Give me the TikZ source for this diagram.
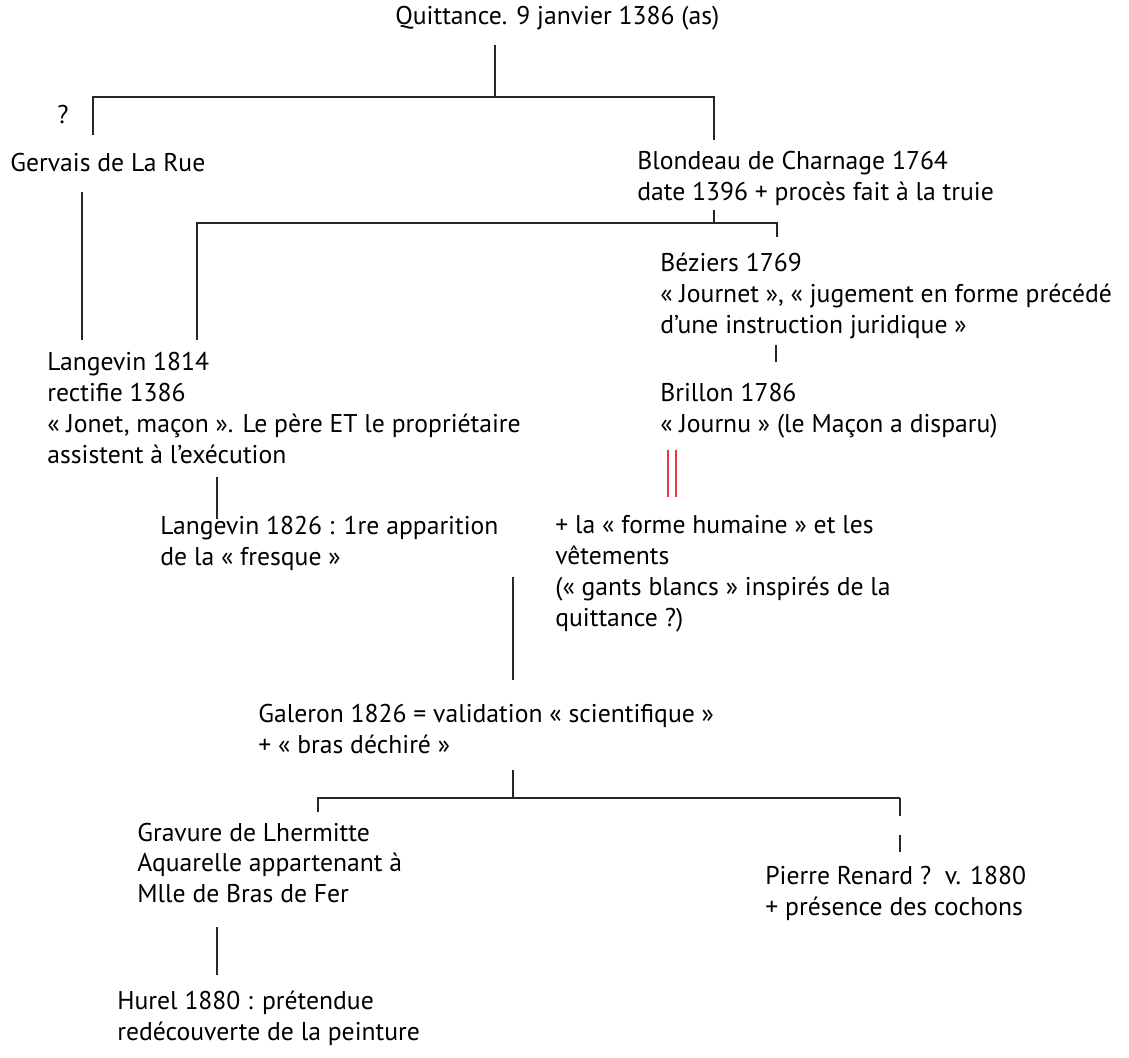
\documentclass[tikz,border=0pt]{standalone}
\usepackage{fontspec}
\setmainfont{PT Sans}
\definecolor{redline}{RGB}{232,58,68}
\begin{document}
\begin{tikzpicture}[x=0.02cm,y=-0.02cm,
  txt/.style={anchor=west,align=left,inner sep=0pt,font=\fontsize{14.6}{17.6}\selectfont},
  link/.style={line width=1.1pt,black!85}]
\useasboundingbox (0,0) rectangle (1129,1058);

%TEXTS
\node[txt](quit) at (395,18) {Quittance. 9 janvier 1386 (as)};
\node[txt,anchor=center](qmark) at (63,115) {?};
\node[txt](gervais) at (10,163) {Gervais de La Rue};
\node[txt](blondeau) at (637,178) {Blondeau de Charnage 1764\\date 1396 + procès fait à la truie};
\node[txt](beziers) at (660,296) {Béziers 1769\\« Journet », « jugement en forme précédé\\d’une instruction juridique »};
\node[txt](brillon) at (660,411) {Brillon 1786\\« Journu » (le Maçon a disparu)};
\node[txt](langA) at (47,408) {Langevin 1814\\rectifie 1386\\« Jonet, maçon ». Le père ET le propriétaire\\assistent à l’exécution};
\node[txt](langB) at (160,543) {Langevin 1826 : 1re apparition\\de la « fresque »};
\node[txt](forme) at (555,574) {+ la « forme humaine » et les\\vêtements\\(« gants blancs » inspirés de la\\quittance ?)};
\node[txt](galeron) at (258,729) {Galeron 1826 = validation « scientifique »\\+ « bras déchiré »};
\node[txt](gravure) at (137,863) {Gravure de Lhermitte\\Aquarelle appartenant à\\Mlle de Bras de Fer};
\node[txt](renard) at (765,893) {Pierre Renard ?~~v. 1880\\+ présence des cochons};
\node[txt](hurel) at (117,1018) {Hurel 1880 : prétendue\\redécouverte de la peinture};

%JUNCTIONS
\coordinate (j0a) at (495,45);
\coordinate (j0) at (495,97);
\coordinate (j1a) at (93,135);
\coordinate (j1b) at (714,140);
\coordinate (j2a) at (82,192);
\coordinate (j2b) at (82,340);
\coordinate (j3a) at (714,210);
\coordinate (j3) at (714,223);
\coordinate (j4a) at (197,340);
\coordinate (j4b) at (777,237);
\coordinate (j5a) at (776,345);
\coordinate (j5b) at (776,362);
\coordinate (r1) at (668,450);
\coordinate (r2) at (676,450);
\coordinate (j6a) at (217,477);
\coordinate (j6b) at (217,519);
\coordinate (j7a) at (513,577);
\coordinate (j7b) at (513,680);
\coordinate (j8a) at (513,770);
\coordinate (j8) at (513,798);
\coordinate (j9a) at (318,812);
\coordinate (j9b) at (900,798);
\coordinate (j9c) at (900,852);
\coordinate (j10a) at (217,927);
\coordinate (j10b) at (217,975);

%LINES
\draw[link] (j0a) -- (j0);
\draw[link] (j1a) |- (j0) -| (j1b);
\draw[link] (j2a) -- (j2b);
\draw[link] (j3a) -- (j3);
\draw[link] (j4a) |- (j3) -| (j4b);
\draw[link] (j5a) -- (j5b);
\draw[line width=1.1pt,redline] (r1) -- ++(0,47);
\draw[line width=1.1pt,redline] (r2) -- ++(0,47);
\draw[link] (j6a) -- (j6b);
\draw[link] (j7a) -- (j7b);
\draw[link] (j8a) -- (j8);
\draw[link] (j9a) |- (j8) -- (j9b);
\draw[link,dash pattern=on 10pt off 11pt] (j9b) -- (j9c);
\draw[link] (j10a) -- (j10b);

\end{tikzpicture}
\end{document}
